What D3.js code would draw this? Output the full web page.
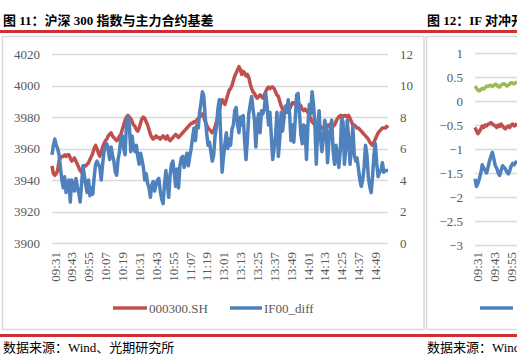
<!DOCTYPE html>
<html><head><meta charset="utf-8">
<script src="https://cdn.jsdelivr.net/npm/d3@7"></script>
<style>
html,body{margin:0;padding:0;background:#fff;}
svg{display:block;}
svg text{font-family:"Liberation Serif","Noto Sans CJK SC",serif;}
</style></head>
<body><svg id="c" width="517" height="357"></svg>
<script>
// ---------- DATA ----------
const tickLabels = ["09:31","09:43","09:55","10:07","10:19","10:31","10:43","10:55","11:07","11:19",
  "13:01","13:13","13:25","13:37","13:49","14:01","14:13","14:25","14:37","14:49"];
const leftTicks = [3900,3920,3940,3960,3980,4000,4020];
const rightTicks = [0,2,4,6,8,10,12];
const seriesNames = ["000300.SH","IF00_diff"];
const csi300 = [
3949,3944,3943,3944,3946,3952,3954,3955,3955,3956,3955,3956,3956,3954,3952,3953,3954,3952,3950,3948,
3946,3945,3947,3949,3949,3950,3951,3953,3955,3957,3960,3962,3960,3957,3955,3958,3961,3963,3965,3966,
3968,3969,3970,3968,3967,3966,3965,3966,3968,3969,3972,3975,3978,3980,3981,3980,3979,3977,3975,3974,
3972,3971,3973,3976,3979,3980,3979,3977,3975,3972,3969,3967,3966,3967,3968,3967,3967,3966,3967,3968,
3967,3966,3968,3966,3965,3966,3967,3968,3969,3968,3967,3968,3969,3970,3971,3972,3973,3974,3975,3976,
3976,3977,3977,3978,3979,3980,3981,3982,3980,3977,3975,3973,3972,3971,3970,3971,3974,3977,3980,3984,
3988,3991,3990,3988,3991,3994,3997,3998,4000,4003,4006,4008,4010,4012,4010,4007,4009,4008,4006,4007,
4005,4001,3998,3996,3995,3993,3992,3993,3994,3993,3992,3994,3996,3998,3999,3998,3999,3999,3998,3996,
3994,3993,3990,3987,3985,3984,3984,3983,3983,3985,3987,3989,3989,3988,3989,3989,3988,3987,3985,3984,
3985,3984,3983,3981,3979,3977,3976,3975,3974,3974,3973,3974,3973,3973,3974,3975,3974,3975,3974,3974,
3974,3975,3977,3979,3980,3981,3981,3980,3981,3981,3980,3981,3979,3977,3975,3975,3974,3973,3973,3972,
3971,3970,3969,3968,3967,3966,3964,3963,3962,3964,3966,3968,3970,3971,3972,3973,3973,3973,3974,3973];
const if00Diff = [
5.6,6.2,6.6,6.2,6.0,5.6,4.8,4.0,3.5,4.2,3.2,3.8,4.0,2.6,4.0,3.7,3.3,4.1,3.6,3.2,
2.6,3.7,4.9,4.3,3.7,3.2,4.0,3.0,3.5,3.1,4.2,5.0,5.2,5.0,4.8,4.0,5.0,5.8,6.1,6.3,
5.9,5.3,6.1,5.6,5.2,4.5,4.3,5.3,5.8,6.7,6.8,6.0,5.6,7.7,8.0,7.5,5.8,6.8,6.0,5.8,
6.2,5.5,5.0,5.7,5.3,4.8,4.0,4.4,3.8,3.5,2.9,3.7,3.9,3.3,3.7,4.0,4.1,3.3,2.8,2.5,
3.7,4.6,3.8,2.9,4.3,5.0,5.2,4.4,3.6,4.7,3.5,4.9,5.4,5.5,4.8,5.3,5.7,4.9,5.5,6.0,
6.7,7.3,6.5,7.5,7.3,8.3,8.9,9.6,9.3,8.0,7.0,6.2,6.4,5.8,5.2,5.6,6.8,7.4,8.5,9.1,
6.8,4.5,5.5,6.3,7.0,6.0,6.6,6.2,7.2,7.5,8.4,8.6,7.5,7.0,8.0,7.5,8.1,6.5,5.3,6.6,
8.2,8.8,9.3,8.5,7.8,6.1,7.7,8.2,7.0,8.4,8.2,8.5,9.5,8.7,7.5,8.3,6.8,5.3,6.0,6.8,
8.3,5.5,6.6,8.3,7.1,7.9,8.7,8.4,9.1,8.2,6.5,7.5,6.4,7.8,9.4,9.5,8.3,6.9,6.3,7.5,
7.4,5.3,7.4,8.8,8.2,9.6,8.8,7.5,5.0,7.4,8.4,6.6,5.8,6.6,7.8,7.4,5.1,6.5,7.4,7.8,
5.8,5.0,6.2,5.6,4.8,5.8,7.9,7.7,5.0,6.0,7.8,6.6,5.0,6.2,7.4,5.6,5.2,5.4,4.7,4.0,
3.6,4.0,4.8,6.2,5.6,4.2,3.6,3.2,4.2,5.6,6.3,5.0,4.2,4.5,4.6,5.1,4.5,4.6,4.6,4.6];
// right (cut-off) chart
const rightTickLabels = ["09:31","09:43","09:55"];
const rightYTicks = [1,0.5,0,-0.5,-1,-1.5,-2,-2.5,-3];
const hedgeGreen = [0.31,0.27,0.22,0.21,0.24,0.26,0.25,0.28,0.31,0.30,0.32,0.33,0.30,0.32,0.35,0.34,0.30,0.29,0.33,0.35,0.36,0.34,0.31,0.33,0.36,0.38,0.37,0.36,0.38,0.39];
const hedgeRed = [-0.55,-0.62,-0.68,-0.64,-0.58,-0.52,-0.55,-0.50,-0.52,-0.48,-0.47,-0.45,-0.48,-0.50,-0.52,-0.55,-0.50,-0.53,-0.48,-0.52,-0.56,-0.58,-0.54,-0.52,-0.55,-0.50,-0.48,-0.52,-0.50,-0.47];
const hedgeBlue = [-1.62,-1.78,-1.72,-1.62,-1.50,-1.33,-1.40,-1.45,-1.50,-1.38,-1.25,-1.15,-1.07,-1.20,-1.35,-1.40,-1.50,-1.55,-1.45,-1.35,-1.38,-1.42,-1.48,-1.52,-1.45,-1.35,-1.30,-1.33,-1.28,-1.25];

// categories: every trading minute
const categories = [];
function addSession(h0,m0,h1,m1){let t=h0*60+m0;const e=h1*60+m1;for(;t<=e;t++){const h=Math.floor(t/60),m=t%60;categories.push(String(h).padStart(2,"0")+":"+String(m).padStart(2,"0"));}}
addSession(9,31,11,30); addSession(13,1,15,0);

// ---------- STYLE ----------
const RED="#C0504D", BLUE="#4F81BD", GREEN="#9BBB59", TXT="#595959", GRID="#D9D9D9", BRAND="#CD2F33";
const FONT='"Liberation Serif","Noto Sans CJK SC",serif';
const svg = d3.select("#c");
svg.append("rect").attr("width",517).attr("height",357).attr("fill","#fff");

// header/footer
svg.append("text").attr("x",3).attr("y",25).attr("font-size",13).attr("font-weight","bold").attr("fill","#000")
  .text("图 11：沪深 300 指数与主力合约基差");
svg.append("text").attr("x",427).attr("y",25).attr("font-size",13).attr("font-weight","bold").attr("fill","#000")
  .text("图 12：IF 对冲开仓成本");
svg.append("rect").attr("x",0).attr("y",30).attr("width",517).attr("height",3).attr("fill",BRAND);
svg.append("rect").attr("x",0).attr("y",334).attr("width",517).attr("height",3).attr("fill",BRAND);
svg.append("text").attr("x",3).attr("y",352).attr("font-size",13).attr("fill","#000").text("数据来源：Wind、光期研究所");
svg.append("text").attr("x",427).attr("y",352).attr("font-size",13).attr("fill","#000").text("数据来源：Wind、光期研究所");

// frames
svg.append("rect").attr("x",2.5).attr("y",36.5).attr("width",421.5).attr("height",293).attr("fill","none").attr("stroke",GRID).attr("stroke-width",1.5);
svg.append("rect").attr("x",426.5).attr("y",36.5).attr("width",120).attr("height",293).attr("fill","none").attr("stroke",GRID).attr("stroke-width",1.5);

// ---------- LEFT CHART ----------
const x = d3.scalePoint().domain(categories).range([52,388]);
const yL = d3.scaleLinear().domain([3900,4020]).range([243,54]);
const yR = d3.scaleLinear().domain([0,12]).range([243,54]);

svg.append("g").selectAll("line").data(leftTicks).join("line")
  .attr("x1",52).attr("x2",388).attr("y1",d=>Math.round(yL(d))+0.5).attr("y2",d=>Math.round(yL(d))+0.5)
  .attr("stroke",GRID).attr("stroke-width",1.3);

const axL = svg.append("g").attr("transform","translate(52,0)")
  .call(d3.axisLeft(yL).tickValues(leftTicks).tickSize(0).tickPadding(12).tickFormat(d=>String(d)));
const axR = svg.append("g").attr("transform","translate(388,0)")
  .call(d3.axisRight(yR).tickValues(rightTicks).tickSize(0).tickPadding(12).tickFormat(d=>String(d)));
[axL,axR].forEach(a=>{a.attr("font-family",FONT);a.select(".domain").remove();a.selectAll("text").attr("font-size",13).attr("fill",TXT);});

const xl = svg.append("g");
tickLabels.forEach(t=>{
  const px = x(t)+3;
  xl.append("text").attr("transform",`translate(${px},252) rotate(-90)`).attr("text-anchor","end")
    .attr("dy","0.35em").attr("font-size",13).attr("fill",TXT).text(t);
});

const lineL = d3.line().x((d,i)=>x(categories[i])).y(d=>yL(d));
const lineR = d3.line().x((d,i)=>x(categories[i])).y(d=>yR(d));
svg.append("path").datum(csi300).attr("d",lineL).attr("fill","none").attr("stroke",RED).attr("stroke-width",3.5).attr("stroke-linejoin","round");
svg.append("path").datum(if00Diff).attr("d",lineR).attr("fill","none").attr("stroke",BLUE).attr("stroke-width",3.5).attr("stroke-linejoin","round");

// legend
const lg = svg.append("g");
[[113,147,RED,seriesNames[0]],[230,262,BLUE,seriesNames[1]]].forEach(([a,b,c,n])=>{
  lg.append("line").attr("x1",a).attr("x2",b).attr("y1",308).attr("y2",308).attr("stroke",c).attr("stroke-width",3.5);
  lg.append("text").attr("x",b+2).attr("y",312.5).attr("font-size",13).attr("fill",TXT).text(n);
});

// ---------- RIGHT (cut) CHART ----------
const x2 = d3.scalePoint().domain(categories).range([475,475+239*1.45]);
const y2 = d3.scaleLinear().domain([-3,1]).range([245,53]);
svg.append("g").selectAll("line").data(rightYTicks).join("line")
  .attr("x1",475).attr("x2",517).attr("y1",d=>Math.round(y2(d))+0.5).attr("y2",d=>Math.round(y2(d))+0.5)
  .attr("stroke",GRID).attr("stroke-width",1.3);
const ax2 = svg.append("g").attr("transform","translate(475,0)")
  .call(d3.axisLeft(y2).tickValues(rightYTicks).tickSize(0).tickPadding(12).tickFormat(d=>(d<0?"\u2212":"")+Math.abs(d)));
ax2.attr("font-family",FONT);
ax2.select(".domain").remove();
ax2.selectAll("text").attr("font-size",13).attr("fill",TXT);
rightTickLabels.forEach(t=>{
  svg.append("text").attr("transform",`translate(${x2(t)+2},252) rotate(-90)`).attr("text-anchor","end")
    .attr("dy","0.35em").attr("font-size",13).attr("fill",TXT).text(t);
});
const line2 = d3.line().x((d,i)=>x2(categories[i])).y(d=>y2(d));
[[hedgeGreen,GREEN],[hedgeRed,RED],[hedgeBlue,BLUE]].forEach(([d,c])=>{
  svg.append("path").datum(d).attr("d",line2).attr("fill","none").attr("stroke",c).attr("stroke-width",3.5).attr("stroke-linejoin","round");
});
svg.append("line").attr("x1",480).attr("x2",513).attr("y1",308).attr("y2",308).attr("stroke",BLUE).attr("stroke-width",3.5);
</script></body></html>
